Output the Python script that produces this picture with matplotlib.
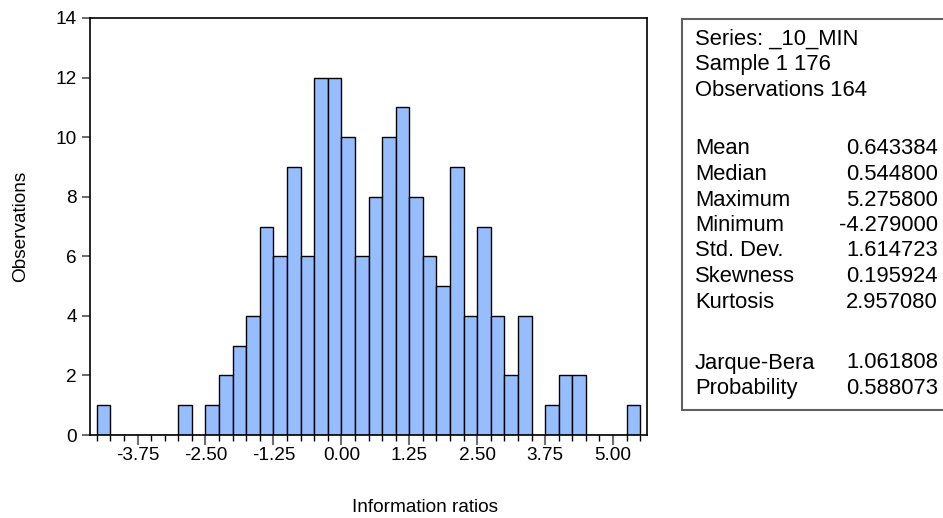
import numpy as np
import matplotlib
matplotlib.use("Agg")
import matplotlib.pyplot as plt
from matplotlib.patches import Rectangle
from matplotlib.ticker import MultipleLocator, FixedLocator

plt.rcParams['font.family'] = ['Liberation Sans', 'DejaVu Sans']

# histogram of information ratios, bin width 0.25 starting at -4.5
bin_start = -4.5
bin_width = 0.25
counts = [1, 0, 0, 0, 0, 0, 1, 0, 1, 2, 3, 4, 7, 6, 9, 6, 12, 12,
          10, 6, 8, 10, 11, 8, 6, 5, 9, 4, 7, 4, 2, 4, 0, 1, 2, 2, 0, 0, 0, 1]
xtick_vals = [-3.75, -2.50, -1.25, 0.00, 1.25, 2.50, 3.75, 5.00]

stat_header = ["Series: _10_MIN", "Sample 1 176", "Observations 164"]
stat_names = ["Mean", "Median", "Maximum", "Minimum", "Std. Dev.",
              "Skewness", "Kurtosis", "Jarque-Bera", "Probability"]
stat_values = ["0.643384", "0.544800", "5.275800", "-4.279000", "1.614723",
               "0.195924", "2.957080", "1.061808", "0.588073"]

W, H = 943, 518
fig = plt.figure(figsize=(W / 100, H / 100), dpi=100)
ax = fig.add_axes([90 / W, 1 - 435 / H, 557 / W, 417 / H])

lefts = bin_start + bin_width * np.arange(len(counts))
ax.bar(lefts, counts, width=bin_width, align='edge', color='#96BDFD',
       edgecolor='black', linewidth=1.0)

ax.set_xlim(bin_start - bin_width / 2, bin_start + bin_width * len(counts) + bin_width / 2)
ax.set_ylim(0, 14)
ax.yaxis.set_major_locator(MultipleLocator(2))
ax.xaxis.set_major_locator(FixedLocator(xtick_vals))
ax.xaxis.set_major_formatter(matplotlib.ticker.FormatStrFormatter('%.2f'))
ax.xaxis.set_minor_locator(FixedLocator(bin_start + bin_width * np.arange(len(counts) + 1)))

ax.tick_params(axis='y', which='major', length=5.8, width=1.2, color='#505050',
               labelsize=13.7, pad=3.5)
ax.tick_params(axis='x', which='major', length=7.2, width=1.5, color='#707070',
               labelsize=13.7, pad=1.5)
ax.tick_params(axis='x', which='minor', length=4.3, width=1.0, color='black')
for s in ax.spines.values():
    s.set_color('black')
    s.set_linewidth(1.2)

ax.set_ylabel("Observations", fontsize=13.7, labelpad=19)
fig.text(424.7 / W, 1 - 507 / H, "Information ratios", fontsize=13.7,
         ha='center', va='center')

# stats box drawn in pixel coordinates
ov = fig.add_axes([0, 0, 1, 1])
ov.set_xlim(0, W)
ov.set_ylim(H, 0)
ov.axis('off')
ov.add_patch(Rectangle((682, 19), 300, 391, facecolor='white',
                       edgecolor='#606060', linewidth=1.5))
header_y = [39, 64.5, 90]
for txt, y in zip(stat_header, header_y):
    ov.text(695, y, txt, fontsize=15.8, ha='left', va='center')
row_y = [149, 174.5, 200, 225.5, 251, 276.5, 302, 363, 388.5]
for name, val, y in zip(stat_names, stat_values, row_y):
    ov.text(695, y, name, fontsize=15.8, ha='left', va='center')
    ov.text(938, y, val, fontsize=15.8, ha='right', va='center')

fig.savefig("out.png", dpi=100)
